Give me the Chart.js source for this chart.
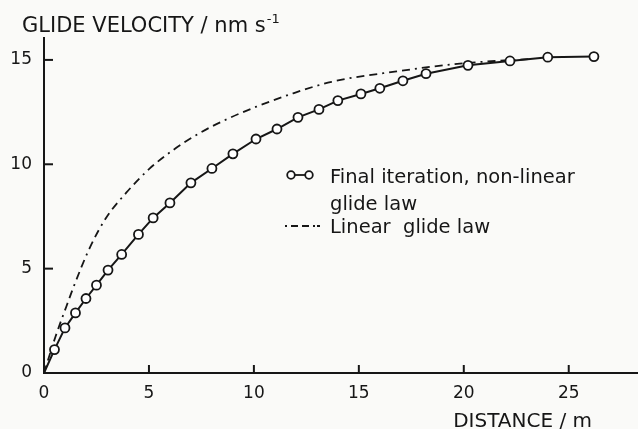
<!DOCTYPE html>
<html>
<head>
<meta charset="utf-8">
<script src="https://cdn.jsdelivr.net/npm/chart.js@4"></script>
<style>
  html, body { margin: 0; padding: 0; background: #fafaf8; }
  #wrap { width: 638px; height: 429px; }
</style>
</head>
<body>
<div id="wrap"><canvas id="myChart"></canvas></div>
<script>
  // final iteration, non-linear glide law (first point is the origin, no marker)
  const distance = [0, 0.5, 1.0, 1.5, 2.0, 2.5, 3.05, 3.7, 4.5, 5.2, 6.0, 7.0, 8.0, 9.0, 10.1, 11.1, 12.1, 13.1, 14.0, 15.1, 16.0, 17.1, 18.2, 20.2, 22.2, 24.0, 26.2]
  const velocity = [0, 1.12, 2.16, 2.88, 3.57, 4.21, 4.93, 5.68, 6.64, 7.43, 8.15, 9.11, 9.8, 10.5, 11.21, 11.69, 12.25, 12.63, 13.05, 13.37, 13.64, 14.0, 14.34, 14.74, 14.95, 15.13, 15.16]

  // linear glide law
  const linDistance = [0, 0.55, 1.07, 1.4, 2.18, 2.97, 3.93, 5.04, 6.15, 7.42, 8.69, 10.12, 11.87, 13.7, 16.8, 20.0, 23.3]
  const linVelocity = [0, 1.75, 3.2, 4.1, 6.0, 7.45, 8.65, 9.8, 10.68, 11.5, 12.15, 12.76, 13.4, 13.95, 14.45, 14.84, 15.05]

  const xTicks = [0, 5, 10, 15, 20, 25]
  const yTicks = [0, 5, 10, 15]

  const ink = '#161616'
  const font = 'DejaVu Sans'
  const dashDot = [8, 5, 8, 5, 2, 5]

  const toPoints = (xs, ys) => xs.map((x, i) => ({ x: x, y: ys[i] }))

  // tick marks inside the axes, axis texts and the legend
  const extras = {
    id: 'extras',
    beforeDraw(chart) {
      const c = chart.ctx
      c.save()
      c.fillStyle = '#fafaf8'
      c.fillRect(0, 0, chart.width, chart.height)
      c.restore()
    },
    afterDraw(chart) {
      const c = chart.ctx
      const xs = chart.scales.x
      const ys = chart.scales.y
      const a = chart.chartArea
      c.save()
      c.strokeStyle = ink
      c.lineWidth = 2
      xTicks.forEach(v => {
        const px = xs.getPixelForValue(v)
        c.beginPath(); c.moveTo(px, a.bottom); c.lineTo(px, a.bottom - 8); c.stroke()
      })
      yTicks.forEach(v => {
        const py = ys.getPixelForValue(v)
        c.beginPath(); c.moveTo(a.left, py); c.lineTo(a.left + 9, py); c.stroke()
      })

      c.fillStyle = ink
      c.textBaseline = 'alphabetic'
      c.textAlign = 'left'
      c.font = '21px "' + font + '"'
      const t1 = 'GLIDE VELOCITY / nm s'
      c.fillText(t1, 22, 32)
      const w1 = c.measureText(t1).width
      c.font = '13px "' + font + '"'
      c.fillText('-1', 22 + w1 + 1, 23)

      c.font = '20px "' + font + '"'
      c.textAlign = 'right'
      c.fillText('DISTANCE / m', 592, 427)

      // legend
      c.textAlign = 'left'
      c.font = '19.5px "' + font + '"'
      c.fillText('Final iteration, non-linear', 330, 183)
      c.fillText('glide law', 330, 210)
      c.fillText('Linear  glide law', 330, 233)

      c.lineWidth = 1.8
      c.beginPath(); c.moveTo(291, 175); c.lineTo(309, 175); c.stroke()
      ;[291, 309].forEach(cx => {
        c.beginPath(); c.arc(cx, 175, 3.8, 0, Math.PI * 2)
        c.fillStyle = '#ffffff'; c.fill(); c.stroke()
      })
      c.setLineDash([2, 4, 7, 4, 7, 4, 2])
      c.beginPath(); c.moveTo(285, 226); c.lineTo(320, 226); c.stroke()
      c.restore()
    }
  }

  const ctx = document.getElementById('myChart')

  new Chart(ctx, {
    type: 'line',
    data: {
      datasets: [{
        label: 'Linear glide law',
        data: toPoints(linDistance, linVelocity),
        borderColor: ink,
        borderWidth: 1.8,
        borderDash: dashDot,
        pointRadius: 0,
        cubicInterpolationMode: 'monotone',
        order: 2
      },
      {
        label: 'Final iteration, non-linear glide law',
        data: toPoints(distance, velocity),
        borderColor: ink,
        backgroundColor: '#ffffff',
        borderWidth: 2,
        pointRadius: c => c.dataIndex === 0 ? 0 : 4.5,
        pointBorderWidth: 1.8,
        pointBackgroundColor: '#ffffff',
        pointBorderColor: ink,
        tension: 0,
        order: 1
      }
      ]
    },
    options: {
      responsive: true,
      maintainAspectRatio: false,
      animation: false,
      layout: { autoPadding: false, padding: { top: 38, right: 0, left: 0, bottom: 0 } },
      plugins: {
        legend: { display: false },
        tooltip: { enabled: false }
      },
      scales: {
        x: {
          type: 'linear',
          min: 0,
          max: 28.3,
          afterBuildTicks: s => { s.ticks = xTicks.map(v => ({ value: v })) },
          afterFit: s => { s.height = 56 },
          grid: { display: false, drawTicks: false },
          border: { display: true, color: ink, width: 2 },
          ticks: { color: ink, padding: 10, font: { family: font, size: 17 } }
        },
        y: {
          min: 0,
          max: 16.05,
          afterBuildTicks: s => { s.ticks = yTicks.map(v => ({ value: v })) },
          afterFit: s => { s.width = 44 },
          grid: { display: false, drawTicks: false },
          border: { display: true, color: ink, width: 2 },
          ticks: { color: ink, padding: 12, font: { family: font, size: 17 } }
        }
      }
    },
    plugins: [extras]
  })
</script>
</body>
</html>
